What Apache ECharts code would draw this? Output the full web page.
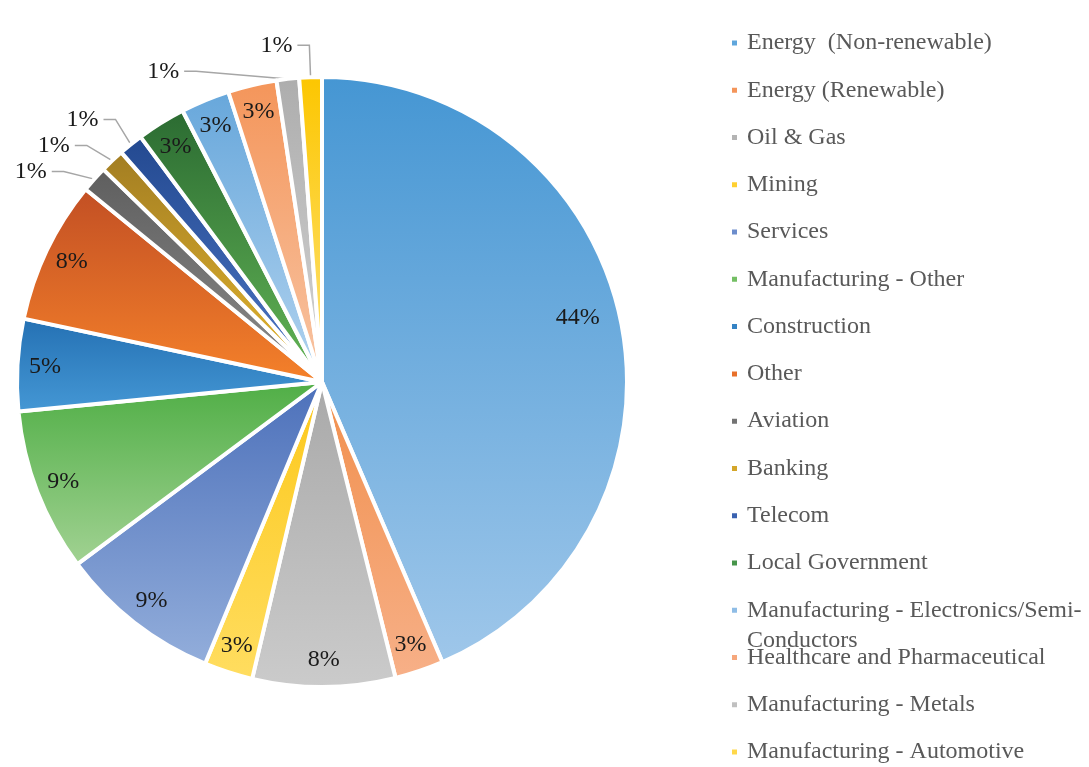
<!DOCTYPE html>
<html>
<head>
<meta charset="utf-8">
<script src="https://cdn.jsdelivr.net/npm/echarts@6/dist/echarts.min.js"></script>
<style>html,body{margin:0;padding:0;background:#fff}#c{width:1089px;height:767px}</style>
</head>
<body>
<div id="c"></div>
<script>
const categories = ["Energy  (Non-renewable)", "Energy (Renewable)", "Oil & Gas", "Mining", "Services",
  "Manufacturing - Other", "Construction", "Other", "Aviation", "Banking", "Telecom", "Local Government",
  "Manufacturing - Electronics/Semi-Conductors", "Healthcare and Pharmaceutical", "Manufacturing - Metals",
  "Manufacturing - Automotive"];
const values = [43.8, 2.6, 7.6, 2.6, 8.6, 8.7, 4.9, 7.6, 1.4, 1.3, 1.3, 2.6, 2.6, 2.6, 1.2, 1.2];

const topColors = ['#4596d3','#f18f4c','#a9a9a9','#fcc81a','#4c70ba','#4fae45','#2470b3','#c24f24','#5e5e5e','#a27d22','#234990','#2b6b32','#67a7db','#f4955a','#adadad','#fcc600'];
const botColors = ['#9fc7ea','#f7b088','#cbcbcb','#ffdd60','#93aedb','#a2d293','#4598d5','#f5812a','#8c8c8c','#e6b72f','#4e77c6','#64b656','#b2d3ef','#f8c5a4','#d3d3d3','#fee37a'];
const legendColors = ['#5fa6dc','#f4955a','#b4b4b4','#ffd030','#6c8dcc','#74bf64','#3583c4','#e8702a','#737373','#d4a62a','#3a62b0','#47954a','#8fbde6','#f6a77c','#c0c0c0','#ffd84a'];

const fontFamily = '"Liberation Serif", "DejaVu Serif", serif';
const R = 305;
const fmt = p => Math.round(p.percent) + '%';

const mainData = categories.map((n, i) => ({
  name: n, value: values[i],
  itemStyle: { color: new echarts.graphic.LinearGradient(0, 0, 0, 1, [{offset: 0, color: topColors[i]}, {offset: 1, color: botColors[i]}]) },
  label: { show: values[i] < 1.5 },
  labelLine: { show: values[i] < 1.5 }
}));
const overlayData = categories.map((n, i) => ({
  name: n, value: values[i],
  label: i === 0 ? { show: true, offset: [-16, -8] } : { show: values[i] >= 1.5 }
}));

function legendItems(from, to) {
  return categories.slice(from, to).map((n, k) => ({ name: n, itemStyle: { color: legendColors[from + k] } }));
}
const LH = 24;
const legendBase = {
  orient: 'vertical', left: 730, itemWidth: 7, itemHeight: 7, icon: 'rect', selectedMode: false,
  padding: 0,
  textStyle: { fontFamily, fontSize: 24, color: '#595959', lineHeight: LH, padding: [0, 0, 0, 4] }
};
const spacing = 47.27, firstCenter = 43;

const option = {
  backgroundColor: '#fff',
  animation: false,
  legend: [
    Object.assign({}, legendBase, { top: firstCenter - LH / 2, height: 740, itemGap: spacing - LH, data: legendItems(0, 12) }),
    Object.assign({}, legendBase, {
      top: firstCenter + 12 * spacing - 45, height: 200, data: legendItems(12, 13),
      formatter: () => '\nManufacturing - Electronics/Semi-\nConductors',
      textStyle: { fontFamily, fontSize: 24, color: '#595959', lineHeight: 30, padding: [0, 0, 0, 4] }
    }),
    Object.assign({}, legendBase, { top: firstCenter + 13 * spacing - LH / 2, height: 300, itemGap: spacing - LH, data: legendItems(13, 16) })
  ],
  series: [
    {
      type: 'pie', center: [322, 382], radius: [0, R], startAngle: 90, clockwise: true,
      avoidLabelOverlap: true, silent: true,
      itemStyle: { borderColor: '#fff', borderWidth: 4 },
      label: { position: 'outside', formatter: fmt, fontFamily, fontSize: 24, color: '#1a1a1a' },
      labelLine: { length: 32, length2: 12, lineStyle: { color: '#a6a6a6', width: 1.5 } },
      data: mainData
    },
    {
      type: 'pie', center: [322, 382], radius: [R * 0.8, R], startAngle: 90, clockwise: true,
      silent: true, avoidLabelOverlap: false,
      itemStyle: { color: 'rgba(0,0,0,0)', borderWidth: 0 },
      label: { position: 'inside', formatter: fmt, fontFamily, fontSize: 24, color: '#1a1a1a' },
      labelLine: { show: false },
      emphasis: { disabled: true },
      data: overlayData
    }
  ]
};
const chart = echarts.init(document.getElementById('c'), null, { renderer: 'canvas' });
chart.setOption(option);
</script>
</body>
</html>
